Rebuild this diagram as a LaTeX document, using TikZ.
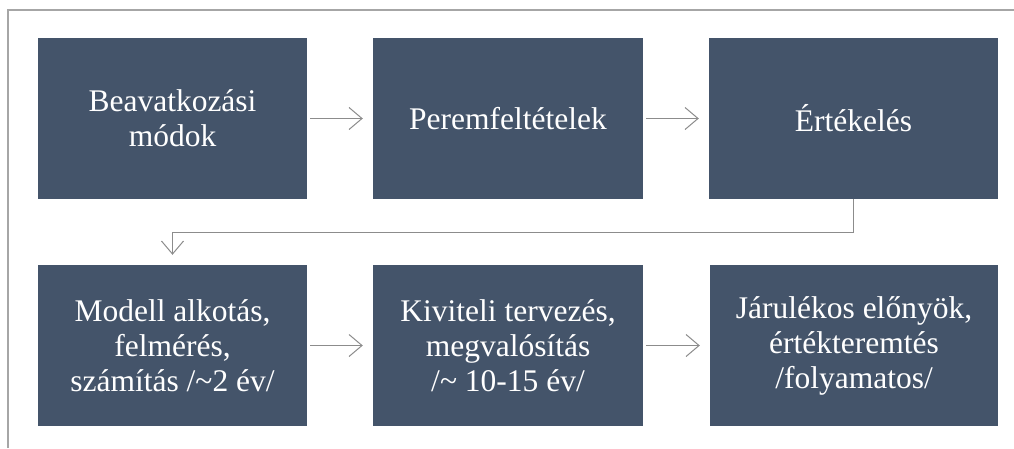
\documentclass[tikz,border=0pt]{standalone}
\usepackage{fontspec}
\setmainfont{Liberation Serif}
\usetikzlibrary{arrows.meta}
\definecolor{boxfill}{HTML}{44546A}
\definecolor{linegray}{HTML}{8C8C8C}
\definecolor{framegray}{HTML}{A6A6A6}
\tikzset{
  stepbox/.style={draw=none, fill=boxfill, text=white, align=center, inner sep=0pt,
    minimum height=161pt, font=\fontsize{31.5}{35}\selectfont},
  flow/.style={draw=linegray, line width=1pt, -{Straight Barb[length=13pt,width=22pt,line width=1pt]},
    shorten <=3pt, shorten >=10pt},
}
\begin{document}
\begin{tikzpicture}[x=1pt,y=-1pt]
\useasboundingbox (0,0) rectangle (1014,448);
\fill[white] (0,0) rectangle (1014,448);
\draw[framegray, line width=1.5pt] (8,448) -- (8,10) -- (1014,10);
\node[stepbox, minimum width=269pt] (b1) at (172.5,118.5) {Beavatkozási\\módok};
\node[stepbox, minimum width=270pt] (b2) at (508,118.5) {Peremfeltételek};
\node[stepbox, minimum width=289pt] (b3) at (853.5,118.5) {Értékelés};
\node[stepbox, minimum width=269pt] (b4) at (172.5,345.5) {Modell alkotás,\\felmérés,\\számítás /\textasciitilde2 év/};
\node[stepbox, minimum width=270pt] (b5) at (508,345.5) {Kiviteli tervezés,\\megvalósítás\\/\textasciitilde{} 10-15 év/};
\node[stepbox, minimum width=288pt] (b6) at (854,345.5) {Járulékos előnyök,\\értékteremtés\\/folyamatos/};
\coordinate (k) at (172.5,232);
\draw[flow] (b1) -- (b2);
\draw[flow] (b2) -- (b3);
\draw[flow, shorten <=0pt] (b3.south) |- (k) -- (b4.north);
\draw[flow] (b4) -- (b5);
\draw[flow] (b5) -- (b6);
\end{tikzpicture}
\end{document}
